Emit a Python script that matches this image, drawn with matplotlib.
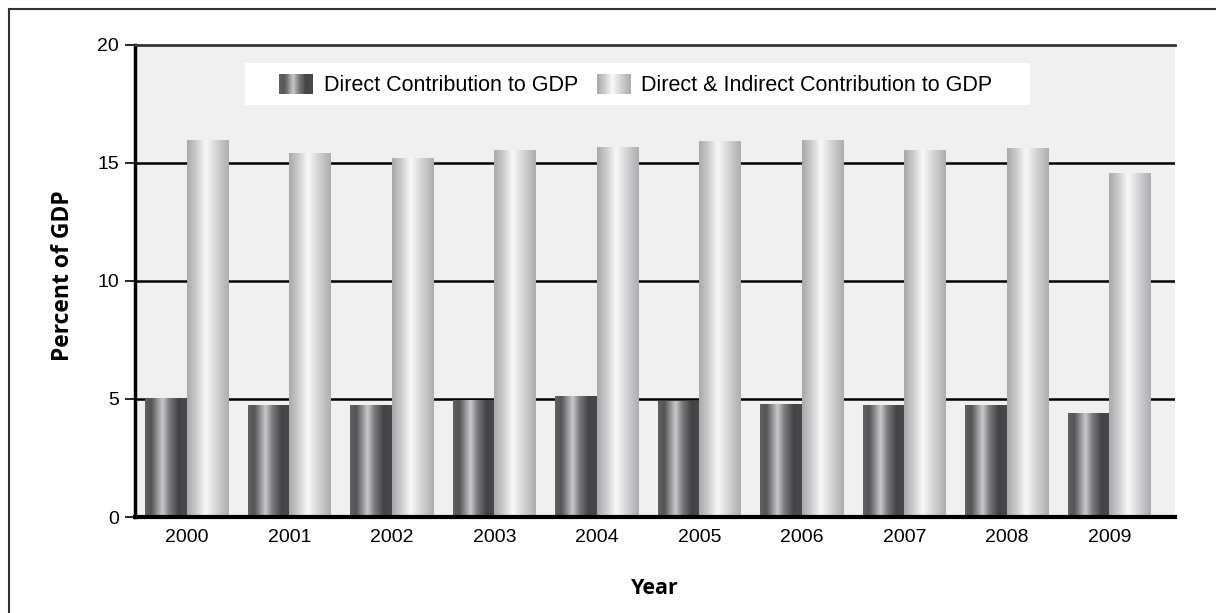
import numpy as np
import matplotlib
matplotlib.use("Agg")
import matplotlib.pyplot as plt
from matplotlib.colors import LinearSegmentedColormap
from matplotlib.legend_handler import HandlerBase
from matplotlib.patches import Rectangle, Patch
from matplotlib.lines import Line2D

years = ["2000", "2001", "2002", "2003", "2004", "2005", "2006", "2007", "2008", "2009"]
direct = [5.03, 4.70, 4.74, 4.95, 5.08, 4.91, 4.78, 4.74, 4.70, 4.36]
direct_indirect = [15.92, 15.37, 15.16, 15.50, 15.66, 15.88, 15.92, 15.50, 15.58, 14.56]
series_labels = ["Direct Contribution to GDP", "Direct & Indirect Contribution to GDP"]
y_ticks = [0, 5, 10, 15, 20]

plt.rcParams["font.family"] = ["Liberation Sans", "DejaVu Sans"]

# Cylindrical shading across each bar's width
dark_cmap = LinearSegmentedColormap.from_list(
    "dark_cyl",
    [(0.0, "#606062"), (0.15, "#545456"), (0.42, "#c9c9cb"), (0.58, "#7c7c7e"),
     (0.8, "#434345"), (1.0, "#4a4a4c")])
light_cmap = LinearSegmentedColormap.from_list(
    "light_cyl",
    [(0.0, "#a9a9ab"), (0.2, "#c8c8ca"), (0.45, "#f9f9f9"), (0.7, "#d4d4d6"),
     (1.0, "#adadaf")])

fig = plt.figure(figsize=(12.16, 6.13), dpi=100)
fig.patch.set_facecolor("white")
ax = fig.add_axes([135 / 1216, 96 / 613, 1040 / 1216, 472.5 / 613])
ax.set_facecolor("#f0f0f0")

x = np.arange(len(years))
w = 0.405
bars_d = ax.bar(x - w / 2, direct, width=w, color="none", edgecolor="none", zorder=3)
bars_i = ax.bar(x + w / 2, direct_indirect, width=w, color="none", edgecolor="none", zorder=3)

grad = np.linspace(0, 1, 256).reshape(1, -1)
for bars, cmap in ((bars_d, dark_cmap), (bars_i, light_cmap)):
    for p in bars:
        x0, y0 = p.get_x(), p.get_y()
        ax.imshow(grad, cmap=cmap, aspect="auto", interpolation="bilinear",
                  extent=[x0, x0 + p.get_width(), y0, y0 + p.get_height()], zorder=3)

ax.set_xlim(-0.507, 9.64)
ax.set_ylim(0, 20)
ax.set_yticks(y_ticks)
ax.set_xticks(x)
ax.set_xticklabels(years)

for v in y_ticks[1:4]:
    ax.axhline(v, color="black", lw=1.8, zorder=1)

ax.spines["right"].set_visible(False)
ax.spines["top"].set_color("#333333")
ax.spines["top"].set_linewidth(2.0)
ax.spines["left"].set_linewidth(2.5)
ax.spines["bottom"].set_linewidth(3.0)
ax.spines["bottom"].set_zorder(5)

ax.tick_params(axis="x", length=0, pad=9, labelsize=14)
ax.tick_params(axis="y", length=7.5, width=1.2, pad=4, labelsize=14)

bold_family = ["Open Sans", "DejaVu Sans"]
ax.set_xlabel("Year", fontsize=15.5, fontweight="bold", family=bold_family)
ax.set_ylabel("Percent of GDP", fontsize=16.5, fontweight="bold", family=bold_family)
ax.xaxis.set_label_coords(0.5, -0.129)
ax.yaxis.set_label_coords(-0.058, 0.51)

# White panel behind the legend entries
ax.add_patch(Rectangle((0.1058, 0.872), 0.7548, 0.089, transform=ax.transAxes,
                       facecolor="white", edgecolor="none", zorder=6))


class GradientHandler(HandlerBase):
    def __init__(self, cmap, n=40):
        super().__init__()
        self.cmap = cmap
        self.n = n

    def create_artists(self, legend, orig_handle, xdescent, ydescent,
                       width, height, fontsize, trans):
        arts = []
        sw = width / self.n
        for i in range(self.n):
            r = Rectangle((-xdescent + i * sw, -ydescent), sw * 1.05, height,
                          facecolor=self.cmap((i + 0.5) / self.n), edgecolor="none",
                          transform=trans)
            arts.append(r)
        return arts


h1 = Patch(label=series_labels[0])
h2 = Patch(label=series_labels[1])
leg = ax.legend([h1, h2], series_labels, ncol=2, loc="center",
                bbox_to_anchor=(0.4817, 0.914), frameon=False,
                fontsize=15.5, handlelength=1.55, handleheight=1.05,
                handletextpad=0.5, columnspacing=0.9, borderpad=0.3,
                handler_map={h1: GradientHandler(dark_cmap), h2: GradientHandler(light_cmap)})
leg.set_zorder(7)

# Outer border (left and top edges)
fig.add_artist(Line2D([8.5 / 1216, 8.5 / 1216], [0, 1 - 9 / 613], color="#333333", lw=1.5))
fig.add_artist(Line2D([8.5 / 1216, 1], [1 - 9 / 613, 1 - 9 / 613], color="#333333", lw=1.5))

fig.savefig("out.png", dpi=100, facecolor="white")
